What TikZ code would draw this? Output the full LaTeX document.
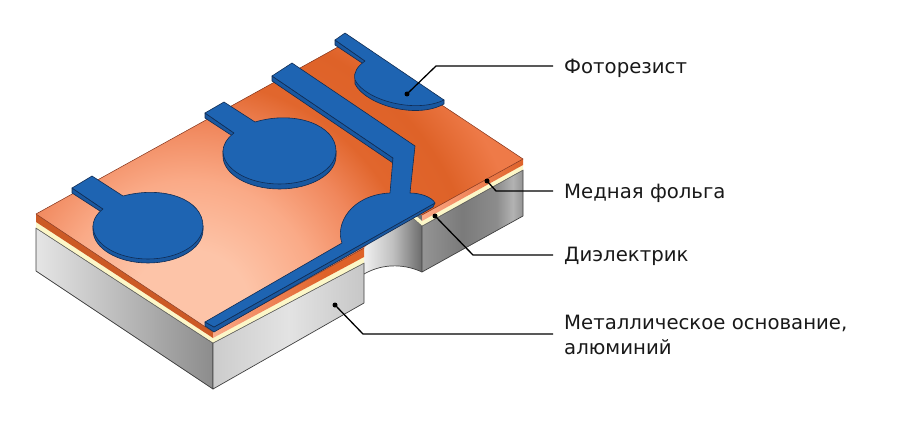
\documentclass[tikz,border=0pt]{standalone}
\usepackage{fontspec}
\setmainfont{DejaVu Sans}
\definecolor{bluetop}{RGB}{30,100,178}
\definecolor{bluedark}{RGB}{26,88,160}
\definecolor{blueline}{RGB}{16,44,84}
\definecolor{culine}{RGB}{130,50,25}
\definecolor{cuA}{RGB}{253,196,168}
\definecolor{cuAB}{RGB}{250,170,135}
\definecolor{cuB}{RGB}{240,135,92}
\definecolor{cuBC}{RGB}{225,102,45}
\definecolor{cuC}{RGB}{222,98,40}
\definecolor{cuD}{RGB}{238,122,72}
\definecolor{ylw}{RGB}{252,247,200}
\pgfdeclareradialshading{curad}{\pgfpointorigin}{color(0bp)=(cuA); color(3.75bp)=(cuA); color(8.1bp)=(cuAB); color(11.6bp)=(cuB); color(14.4bp)=(cuBC); color(18.1bp)=(cuC); color(21.25bp)=(cuD); color(25bp)=(cuD); color(50bp)=(cuD)}
\pgfdeclarehorizontalshading{greyL}{100bp}{color(0bp)=(black!10); color(25bp)=(black!10); color(75bp)=(black!45); color(100bp)=(black!45)}
\pgfdeclarehorizontalshading{greyF}{100bp}{color(0bp)=(black!20); color(25bp)=(black!20); color(50bp)=(black!11); color(75bp)=(black!22); color(100bp)=(black!22)}
\pgfdeclarehorizontalshading{greyW}{100bp}{color(0bp)=(black!6); color(25bp)=(black!6); color(50bp)=(black!25); color(75bp)=(black!58); color(100bp)=(black!58)}
\pgfdeclarehorizontalshading{greyR}{100bp}{color(0bp)=(black!42); color(25bp)=(black!42); color(45bp)=(black!52); color(62bp)=(black!45); color(70bp)=(black!30); color(75bp)=(black!42); color(100bp)=(black!42)}
\pgfdeclarehorizontalshading{cuside}{100bp}{color(0bp)=(cuAB); color(25bp)=(cuAB); color(42bp)=(cuB); color(62bp)=(cuC); color(75bp)=(cuC); color(100bp)=(cuC)}
\pgfdeclarehorizontalshading{cusideR}{100bp}{color(0bp)=(cuAB); color(25bp)=(cuAB); color(48bp)=(cuB); color(75bp)=(cuC); color(100bp)=(cuC)}
\tikzset{
  edge/.style={draw=black!75,line width=0.7pt,line join=round},
  blueT/.style={fill=bluetop,draw=blueline,line width=0.6pt,line join=round},
  blueS/.style={fill=bluedark,draw=blueline,line width=0.6pt,line join=round},
  leader/.style={draw=black,line width=1.3pt,line join=round},
  pin/.style={fill=black,circle,inner sep=0pt,minimum size=5pt},
  lab/.style={anchor=west,font=\fontsize{19.7}{25}\selectfont,align=left,inner sep=0pt,text=black!90}
}
\begin{document}
\begin{tikzpicture}[x=1pt,y=-1pt]
\useasboundingbox (0,0) rectangle (915,425);
% notch back wall
\shade[shading=greyW] (364,240) -- (422,205) -- (422,272) .. controls (407,265) and (385,262) .. (364,274) -- cycle;
\draw[edge] (422,272) .. controls (407,265) and (385,262) .. (364,274);
% grey faces
\shade[shading=greyL,edge] (36,228) -- (213,343) -- (213,389) -- (36,271) -- cycle;
\shade[shading=greyF,edge] (213,343) -- (364,263) -- (364,303) -- (213,389) -- cycle;
\shade[shading=greyR,edge] (422,226) -- (523,170) -- (523,216) -- (422,272) -- cycle;
% yellow
\fill[ylw] (36,222) -- (213,338) -- (364,257) -- (364,263) -- (213,343) -- (36,228) -- cycle;
\fill[ylw] (414,214) -- (422,221) -- (523,165) -- (523,170) -- (422,226) -- (414,219) -- cycle;
\draw[black!65,line width=0.4pt] (36,228) -- (213,343) -- (364,263);
\draw[black!65,line width=0.4pt] (414,219) -- (422,226) -- (523,170);
% copper sides
\fill[cuC!92!black] (36,214) -- (213,332) -- (213,338) -- (36,222) -- cycle;
\shade[shading=cuside] (213,332) -- (364,248) -- (364,257) -- (213,338) -- cycle;
\shade[shading=cusideR] (422,215) -- (523,159) -- (523,165) -- (422,221) -- cycle;
% copper top
\begin{scope}
\clip (36,214) -- (347,42) -- (523,159) -- (422,215) -- (400,210) -- (364,248) -- (213,332) -- cycle;
\shade[shading=curad] (190,310) circle [radius=400];
\end{scope}
\draw[culine,line width=0.5pt,line join=round] (213,332) -- (36,214) -- (347,42) -- (523,159) -- (422,215);
\draw[culine,line width=0.5pt] (213,332) -- (364,248);
% pad 1
\path[blueS] (72,188) -- (72,193) -- (103,213) -- (103,209) -- cycle;
\path[blueS] (93,226) -- (93,230) arc[start angle=180,end angle=0,x radius=55,y radius=33] -- (203,226) -- cycle;
\path[blueT] (72,188) -- (92,176) -- (123,196) .. controls (165,185) and (203,200) .. (203,226) arc[start angle=0,end angle=180,x radius=55,y radius=33] .. controls (93,222) and (95,215) .. (103,209) -- cycle;
% pad 2
\path[blueS] (205,113) -- (205,118) -- (234,137) -- (234,133) -- cycle;
\path[blueS] (223,151) -- (223,156) arc[start angle=180,end angle=0,x radius=56.5,y radius=33] -- (336,151) -- cycle;
\path[blueT] (205,113) -- (224,102) -- (255,122) .. controls (295,110) and (336,125) .. (336,151) arc[start angle=0,end angle=180,x radius=56.5,y radius=33] .. controls (223,146) and (226,139) .. (234,133) -- cycle;
% top half pad
\path[blueS] (335,40) -- (335,45) -- (365,65) -- (365,61) -- cycle;
\path[blueS] (355,80) -- (355,84) .. controls (365,104) and (415,120) .. (444,104) -- (444,100) -- cycle;
\path[blueT] (335,40) -- (345,33) -- (444,100) .. controls (415,114) and (365,100) .. (355,80) .. controls (353,72) and (358,66) .. (365,61) -- cycle;
% strip with half pad
\path[blueS] (272,76) -- (272,81) -- (393,163) -- (393,158) -- cycle;
\path[blueS] (205,322) -- (205,326) -- (214,332) -- (433,207) -- (435,203) -- (214,327) -- cycle;
\path[blueT] (205,322) -- (342,243) .. controls (335,225) and (350,195) .. (390,193) -- (393,158) -- (272,76) -- (292,63) -- (415,146) -- (410,193) .. controls (420,193) and (432,197) .. (435,203) -- (214,327) -- cycle;
% leaders
\coordinate (p1) at (407,94);
\coordinate (p2) at (487,181);
\coordinate (p3) at (435,216);
\coordinate (p4) at (335,305);
\coordinate (e1) at (436,66);
\coordinate (e2) at (496,191);
\coordinate (e3) at (473,255);
\coordinate (e4) at (363,334);
\node[lab] (t1) at (564,68) {Фоторезист};
\node[lab] (t2) at (564,193) {Медная фольга};
\node[lab] (t3) at (564,256) {Диэлектрик};
\node[lab,anchor=north west] (t4) at (564,315) {Металлическое основание,\\алюминий};
\coordinate (a1) at (553,66);
\coordinate (a2) at (553,191);
\coordinate (a3) at (553,255);
\coordinate (a4) at (553,334);
\draw[leader] (p1) -- (e1) -- (a1);
\draw[leader] (p2) -- (e2) -- (a2);
\draw[leader] (p3) -- (e3) -- (a3);
\draw[leader] (p4) -- (e4) -- (a4);
\foreach \p in {p1,p2,p3,p4} \node[pin] at (\p) {};
\end{tikzpicture}
\end{document}
